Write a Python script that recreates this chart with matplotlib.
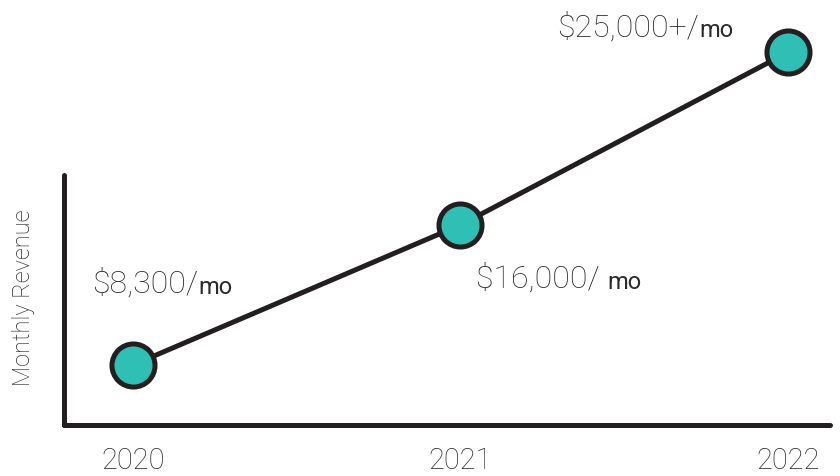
import matplotlib
matplotlib.use("Agg")
import matplotlib.pyplot as plt

years = [2020, 2021, 2022]
revenue = [8300, 16000, 25500]
main_labels = ["$8,300/", "$16,000/ ", "$25,000+/"]
unit_label = "mo"
# label offsets (points) from each marker
offsets = [(-29, 52), (11.5, -45), (-166, 11.5)]

ink = "#231f20"
teal = "#2fbfb5"
txt = "#2b2b2b"
plt.rcParams['font.family'] = ['Roboto', 'DejaVu Sans']

fig = plt.figure(figsize=(8.4, 4.76), dpi=100)
ax = fig.add_axes([64/840, 51/476, 766/840, 405/476])

ax.plot(years, revenue, color=ink, lw=3.6, zorder=2, clip_on=False,
        marker='o', ms=31, mfc=teal, mec=ink, mew=3.6)

ax.set_xlim(2019.79, 2022.128)
ax.set_ylim(5000, 27275)

for s in ['top', 'right']:
    ax.spines[s].set_visible(False)
for s in ['left', 'bottom']:
    ax.spines[s].set_linewidth(3.6)
    ax.spines[s].set_color(ink)
    ax.spines[s].set_capstyle('round')
ax.spines['left'].set_bounds(5000, 18750)

ax.set_xticks(years)
ax.set_xticklabels([str(y) for y in years], fontsize=21, fontweight='light', color=txt)
ax.tick_params(axis='x', length=0, pad=16)
ax.set_yticks([])
ax.set_ylabel("Monthly Revenue", fontsize=17, fontweight='light', color=txt)
ax.yaxis.set_label_coords(-0.038, 0.314)

for x, y, lab, off in zip(years, revenue, main_labels, offsets):
    t = ax.annotate(lab, (x, y), xytext=off, textcoords='offset points',
                    ha='left', va='baseline', fontsize=23, fontweight='light',
                    color=txt)
    ax.annotate(unit_label, xy=(1, 0), xycoords=t, ha='left', va='bottom',
                fontsize=17, color=txt)

fig.savefig("out.png", dpi=100)
